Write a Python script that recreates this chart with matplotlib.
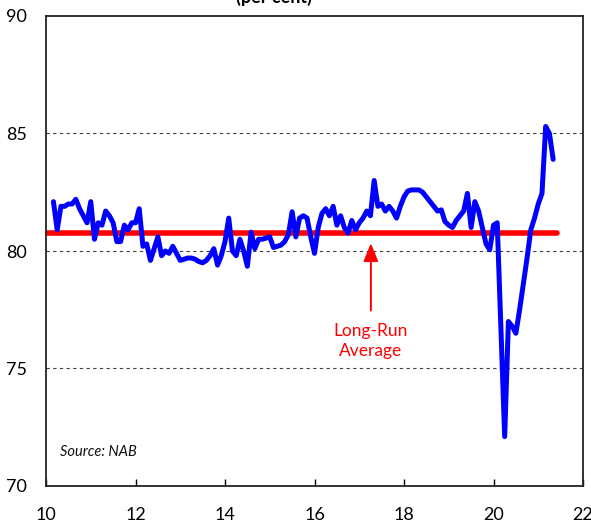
import matplotlib
matplotlib.use("Agg")
import matplotlib.pyplot as plt
import numpy as np

plt.rcParams['font.family'] = ['Lato', 'DejaVu Sans']

# Monthly capacity utilisation (per cent), starting March 2010
start_year = 10 + 2 / 12
capacity = [
    82.1, 80.9, 81.9, 81.9, 82.0, 82.0, 82.2, 81.8, 81.5, 81.2,
    82.1, 80.5, 81.2, 81.1, 81.7, 81.5, 81.2, 80.4, 80.4, 81.1,
    80.9, 81.2, 81.2, 81.8, 80.2, 80.3, 79.6, 80.1, 80.6, 79.8,
    80.0, 79.9, 80.2, 79.9, 79.6, 79.65, 79.7, 79.7, 79.65, 79.55,
    79.5, 79.6, 79.8, 80.1, 79.4, 79.8, 80.4, 81.4, 80.0, 79.8,
    80.5, 80.0, 79.35, 80.8, 80.1, 80.5, 80.5, 80.55, 80.6, 80.15,
    80.2, 80.25, 80.4, 80.7, 81.67, 80.6, 81.4, 81.5, 81.4, 80.6,
    79.9, 81.0, 81.6, 81.8, 81.5, 81.9, 81.1, 81.5, 81.0, 80.76,
    81.3, 80.9, 81.2, 81.4, 81.7, 81.5, 83.0, 81.9, 82.0, 81.7,
    81.9, 81.7, 81.4, 81.9, 82.3, 82.55, 82.6, 82.6, 82.6, 82.5,
    82.3, 82.1, 81.9, 81.7, 81.75, 81.25, 81.1, 81.0, 81.3, 81.5,
    81.7, 82.45, 81.0, 82.1, 81.7, 81.0, 80.3, 80.05, 81.1, 81.2,
    76.7, 72.1, 77.0, 76.8, 76.5, 77.5, 78.6, 79.7, 80.9, 81.4,
    82.0, 82.45, 85.3, 85.0, 83.9,
]
years = start_year + np.arange(len(capacity)) / 12

long_run_average = 80.77
average_span = [10.0, 21.42]

x_ticks = [10, 12, 14, 16, 18, 20, 22]
y_ticks = [70, 75, 80, 85, 90]

fig = plt.figure(figsize=(5.91, 5.22), dpi=100)
ax = fig.add_axes([46 / 591, 1 - 486 / 522, (583 - 46) / 591, (486 - 16) / 522])

for v in [75, 80, 85]:
    ax.axhline(v, color='0.25', lw=0.8, ls=(0, (3, 3)), zorder=1)

ax.plot(average_span, [long_run_average] * 2, color='#ff0000', lw=4.0,
        solid_capstyle='round', zorder=2)
ax.plot(years, capacity, color='#0000ff', lw=3.6, solid_joinstyle='round',
        solid_capstyle='round', zorder=3)

ax.set_xlim(10, 22)
ax.set_ylim(70, 90)
ax.set_xticks(x_ticks)
ax.set_xticklabels([str(t) for t in x_ticks])
ax.set_yticks(y_ticks)
ax.set_yticklabels([str(t) for t in y_ticks])

ax.tick_params(axis='x', direction='in', length=5, width=1, pad=15,
               labelsize=13, top=False)
ax.tick_params(axis='y', length=0, pad=14, labelsize=13)
for s in ax.spines.values():
    s.set_linewidth(1.3)
    s.set_color('#222222')

ax.annotate('', xy=(17.26, 80.45), xytext=(17.26, 77.35),
            arrowprops=dict(arrowstyle='-|>,head_length=1.1,head_width=0.45',
                            color='#ff0000', lw=1.4), zorder=4)
ax.text(17.26, 76.95, 'Long-Run\nAverage', color='#ff0000', ha='center',
        va='top', fontsize=12.5, linespacing=1.3)

ax.text(10.31, 71.45, 'Source: NAB', fontsize=10.5, style='italic',
        ha='left', va='center', color='#111111')

fig.text(274 / 591, 1 - 6 / 522, '(per cent)', ha='center', va='bottom',
         fontsize=13, fontweight='bold')

fig.savefig('out.png', dpi=100)
